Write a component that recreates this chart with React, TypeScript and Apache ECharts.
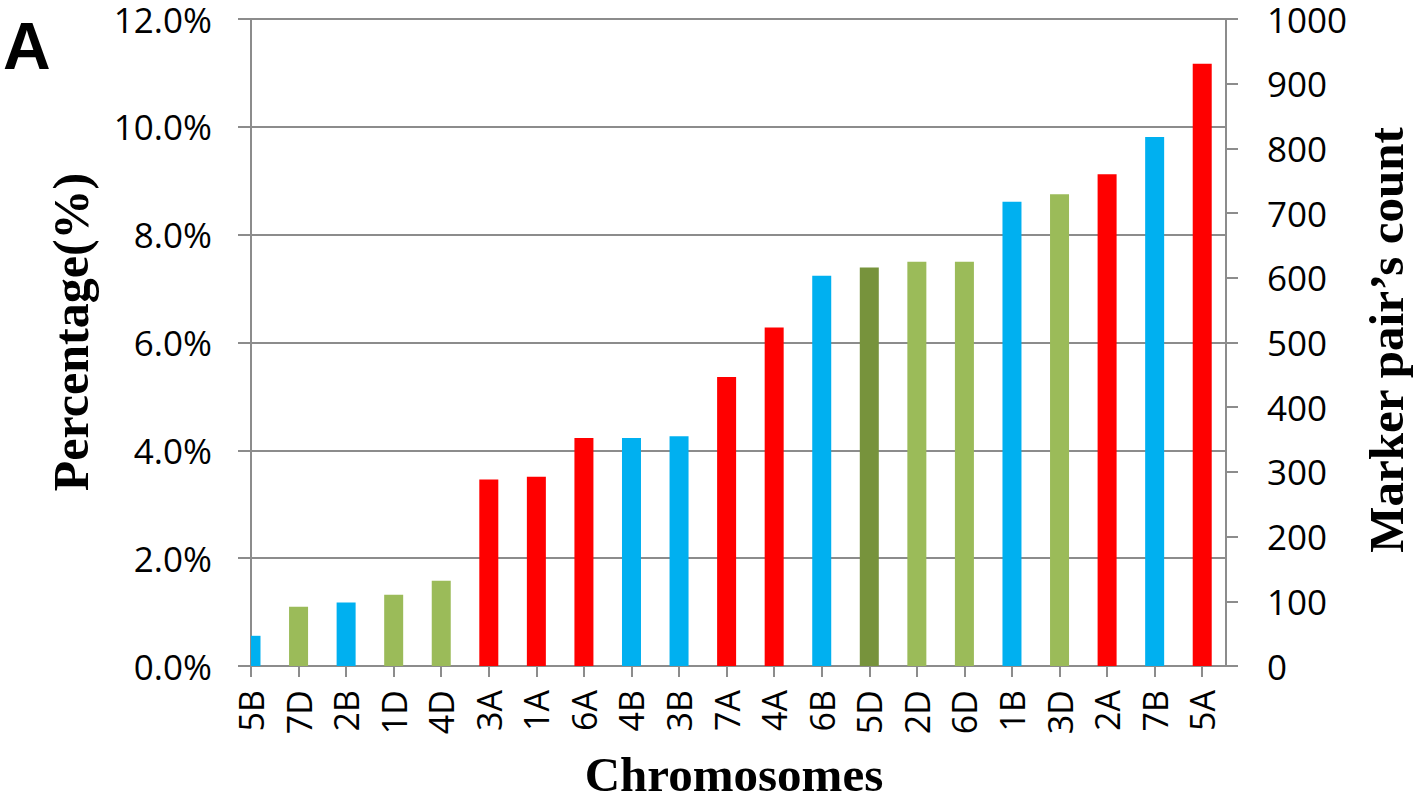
import React, { useEffect, useRef } from "react";
import * as echarts from "echarts";

const categories = ["5B", "7D", "2B", "1D", "4D", "3A", "1A", "6A", "4B", "3B", "7A", "4A", "6B", "5D", "2D", "6D", "1B", "3D", "2A", "7B", "5A"];
const percentages = [0.56, 1.10, 1.18, 1.32, 1.58, 3.46, 3.51, 4.23, 4.23, 4.26, 5.36, 6.28, 7.24, 7.39, 7.50, 7.50, 8.61, 8.75, 9.12, 9.81, 11.17];
const highlighted = ["5D"];
const leftTicks = { min: 0, max: 12, interval: 2 };
const rightTicks = { min: 0, max: 1000, interval: 100 };

const genomeColors: Record<string, string> = { A: "#FF0000", B: "#00B0F0", D: "#9BBB59" };
const highlightColor = "#77933C";
const gray = "#8C8C8C";
const tickFont = "'Open Sans', sans-serif";
const titleFont = "'Liberation Serif', 'Times New Roman', serif";
const BAR_WIDTH = 19;

export default function App() {
  const ref = useRef<HTMLDivElement>(null);
  useEffect(() => {
    if (!ref.current) return;
    const chart = echarts.init(ref.current, undefined, { renderer: "svg" });
    const idx = categories.map((_, i) => i);
    const colors = categories.map((c) => (highlighted.includes(c) ? highlightColor : genomeColors[c.slice(-1)]));
    const data = categories.map((_, i) => [i, percentages[i]]);
    chart.setOption({
      animation: false,
      grid: { left: 251, right: 190, top: 19, bottom: 132, containLabel: false },
      xAxis: {
        type: "value",
        min: 0,
        max: categories.length - 0.5,
        axisLine: { show: true, lineStyle: { color: gray, width: 2 } },
        axisTick: { show: true, length: 11, customValues: idx, lineStyle: { color: gray, width: 2 } },
        axisLabel: {
          customValues: idx,
          rotate: 90,
          margin: 24,
          fontSize: 34,
          fontFamily: tickFont,
          color: "#000",
          formatter: (v: number) => categories[Math.round(v)] ?? "",
        },
        splitLine: { show: false },
      },
      yAxis: [
        {
          type: "value",
          position: "left",
          min: leftTicks.min,
          max: leftTicks.max,
          interval: leftTicks.interval,
          axisLine: { show: true, lineStyle: { color: gray, width: 2 } },
          axisTick: { show: true, length: 13, lineStyle: { color: gray, width: 2 } },
          axisLabel: {
            margin: 39,
            fontSize: 35,
            lineHeight: 30,
            fontFamily: tickFont,
            color: "#000",
            formatter: (v: number) => v.toFixed(1) + "%",
          },
          splitLine: { show: true, lineStyle: { color: gray, width: 2 } },
        },
        {
          type: "value",
          position: "right",
          min: rightTicks.min,
          max: rightTicks.max,
          interval: rightTicks.interval,
          axisLine: { show: true, lineStyle: { color: gray, width: 2 } },
          axisTick: { show: true, length: 12, lineStyle: { color: gray, width: 2 } },
          axisLabel: { margin: 41, fontSize: 35, lineHeight: 30, fontFamily: tickFont, color: "#000", formatter: (v: number) => String(v) },
          splitLine: { show: false },
        },
      ],
      series: [
        {
          type: "custom",
          xAxisIndex: 0,
          yAxisIndex: 0,
          encode: { x: 0, y: 1 },
          clip: true,
          data,
          renderItem: (params: any, api: any) => {
            const x = api.value(0);
            const y = api.value(1);
            const top = api.coord([x, y]);
            const base = api.coord([x, 0]);
            const cs = params.coordSys;
            const rect = echarts.graphic.clipRectByRect(
              { x: top[0] - BAR_WIDTH / 2, y: top[1], width: BAR_WIDTH, height: base[1] - top[1] },
              { x: cs.x, y: cs.y, width: cs.width, height: cs.height }
            );
            if (!rect) return null;
            return { type: "rect", shape: rect, style: { fill: colors[params.dataIndex] } };
          },
        },
      ],
      graphic: [
        {
          type: "text",
          x: 3,
          y: 46,
          style: { text: "A", font: "bold 66px 'Liberation Sans', Arial, sans-serif", fill: "#000", textAlign: "left", textVerticalAlign: "middle" },
        },
        {
          type: "text",
          x: 71,
          y: 332,
          rotation: Math.PI / 2,
          style: { text: "Percentage(%)", font: `bold 50px ${titleFont}`, fill: "#000", textAlign: "center", textVerticalAlign: "middle" },
        },
        {
          type: "text",
          x: 1386,
          y: 340,
          rotation: Math.PI / 2,
          style: { text: "Marker pair\u2019s count", font: `bold 49px ${titleFont}`, fill: "#000", textAlign: "center", textVerticalAlign: "middle" },
        },
        {
          type: "text",
          x: 734,
          y: 774,
          style: { text: "Chromosomes", font: `bold 49px ${titleFont}`, lineHeight: 40, fill: "#000", textAlign: "center", textVerticalAlign: "middle" },
        },
      ],
    });
    return () => chart.dispose();
  }, []);
  return <div ref={ref} style={{ position: "absolute", left: 0, top: 0, width: 1416, height: 798 }} />;
}
